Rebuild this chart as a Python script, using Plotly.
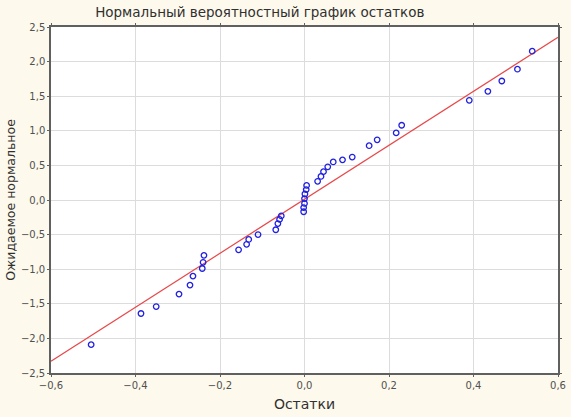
import plotly.graph_objects as go

# residuals vs expected normal values
residuals = [-0.505, -0.387, -0.351, -0.297, -0.271, -0.264, -0.242, -0.240, -0.238,
             -0.156, -0.137, -0.132, -0.110, -0.068, -0.063, -0.059, -0.055,
             -0.002, -0.002, 0.000, 0.000, 0.001, 0.004, 0.005,
             0.031, 0.039, 0.045, 0.055, 0.068, 0.090, 0.113, 0.153, 0.172,
             0.217, 0.230, 0.390, 0.434, 0.467, 0.504, 0.539]
expected = [-2.09, -1.64, -1.54, -1.36, -1.23, -1.10, -0.99, -0.90, -0.80,
            -0.72, -0.64, -0.57, -0.50, -0.43, -0.34, -0.28, -0.23,
            -0.17, -0.11, -0.05, 0.02, 0.087, 0.15, 0.21,
            0.27, 0.34, 0.41, 0.48, 0.55, 0.58, 0.62, 0.785, 0.87,
            0.97, 1.08, 1.44, 1.57, 1.72, 1.89, 2.15]

fit_x = [-0.6, 0.6]
fit_y = [-2.33, 2.35]

x_ticks = [-0.6, -0.4, -0.2, 0.0, 0.2, 0.4, 0.6]
y_ticks = [-2.5, -2.0, -1.5, -1.0, -0.5, 0.0, 0.5, 1.0, 1.5, 2.0, 2.5]

font = "DejaVu Sans"

fig = go.Figure()
fig.add_trace(go.Scatter(x=fit_x, y=fit_y, mode="lines",
                         line=dict(color="#e8484a", width=1.2), hoverinfo="skip"))
fig.add_trace(go.Scatter(x=residuals, y=expected, mode="markers",
                         marker=dict(symbol="circle-open", size=5.5,
                                     color="#2020e0", line=dict(width=1.3))))

axis_common = dict(showgrid=True, gridcolor="#dcdcdc", gridwidth=1,
                   showline=True, linecolor="#606060", linewidth=1.5, mirror="ticks",
                   ticks="outside", ticklen=2, tickcolor="#606060",
                   zeroline=False, tickfont=dict(family=font, size=10, color="#505050"),
                   tickformat=".1f", automargin=False)

fig.update_xaxes(range=[-0.6, 0.6], tickvals=x_ticks,
                 title=dict(text="Остатки", font=dict(family=font, size=14, color="#303030"),
                            standoff=9),
                 **axis_common)
fig.update_yaxes(range=[-2.5, 2.5], tickvals=y_ticks,
                 title=dict(text="Ожидаемое нормальное", font=dict(family=font, size=12.5, color="#303030"),
                            standoff=3),
                 **axis_common)

fig.update_layout(
    width=571, height=417,
    title=dict(text="Нормальный вероятностный график остатков",
               font=dict(family=font, size=13.5, color="#303030"),
               x=0.455, xanchor="center", y=0.983, yanchor="top"),
    separators=", ",
    showlegend=False,
    paper_bgcolor="#fdf9ec",
    plot_bgcolor="#ffffff",
    margin=dict(l=51, r=13, t=27, b=44),
)

fig.write_html("out.html", config={"displayModeBar": False},
               post_script="document.body.style.margin='0';")
